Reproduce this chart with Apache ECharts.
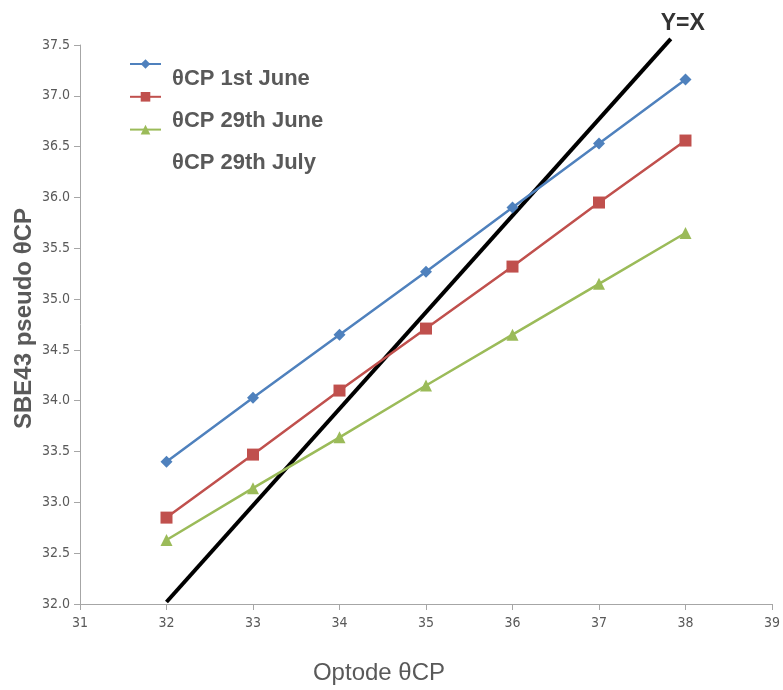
<!DOCTYPE html>
<html>
<head>
<meta charset="utf-8">
<script src="https://cdn.jsdelivr.net/npm/echarts@6/dist/echarts.min.js"></script>
<style>
  html, body { margin: 0; padding: 0; background: #fff; }
  #chart { width: 783px; height: 690px; }
</style>
</head>
<body>
<div id="chart"></div>
<script>
// Optode θCP values (x) shared by all three series
const optodeX = [32, 33, 34, 35, 36, 37, 38];

const seriesNames = ['θCP 1st June', 'θCP 29th June', 'θCP 29th July'];

// SBE43 pseudo θCP values for each date
const june1 = [33.40, 34.03, 34.65, 35.27, 35.90, 36.53, 37.16];
const june29 = [32.85, 33.47, 34.10, 34.71, 35.32, 35.95, 36.56];
const july29 = [32.63, 33.14, 33.64, 34.15, 34.65, 35.15, 35.65];

// Reference line endpoints, labelled Y=X
const refLineX = [32.0, 37.83];
const refLineY = [32.02, 37.56];

const colors = ['#4F81BD', '#C0504D', '#9BBB59'];
const symbols = ['diamond', 'rect', 'triangle'];
const symbolSizes = [12, 12, 12];

const tickFont = "'Liberation Sans Narrow', 'DejaVu Sans Condensed', sans-serif";
const textFont = "'Liberation Sans', Arial, sans-serif";

function pairs(xs, ys) {
  return xs.map((x, i) => [x, ys[i]]);
}

const dataSets = [june1, june29, july29];

const lineSeries = dataSets.map((ys, i) => ({
  name: seriesNames[i],
  type: 'line',
  data: pairs(optodeX, ys),
  symbol: symbols[i],
  symbolSize: symbolSizes[i],
  lineStyle: { color: colors[i], width: 2.5 },
  itemStyle: { color: colors[i] },
  z: 3
}));

const refData = pairs(refLineX, refLineY);
refData[1] = {
  value: refData[1],
  label: {
    show: true,
    formatter: 'Y=X',
    position: 'top',
    distance: 4,
    offset: [12, 0],
    fontSize: 23,
    fontWeight: 'bold',
    color: '#333',
    fontFamily: textFont
  }
};

const chart = echarts.init(document.getElementById('chart'), null, { renderer: 'canvas' });

chart.setOption({
  backgroundColor: '#ffffff',
  animation: false,
  grid: { left: 80, right: 7, top: 45, bottom: 82, containLabel: false },
  legend: {
    orient: 'vertical',
    left: 124,
    top: 53,
    itemWidth: 31,
    itemHeight: 12,
    itemGap: 22,
    data: seriesNames,
    formatter: () => '',
    textStyle: { fontSize: 1 }
  },
  graphic: seriesNames.map((name, i) => ({
    type: 'text',
    left: 172,
    top: [68, 110, 152][i],
    style: {
      text: name,
      fontSize: 22,
      fontFamily: textFont,
      fontWeight: 'bold',
      fill: '#595959'
    }
  })),
  xAxis: {
    type: 'value',
    min: 31,
    max: 39,
    interval: 1,
    name: 'Optode θCP',
    nameLocation: 'middle',
    nameGap: 57,
    nameMoveOverlap: false,
    nameTextStyle: {
      fontSize: 24,
      color: '#595959',
      fontFamily: textFont,
      padding: [0, 94, 0, 0]
    },
    axisLine: { show: true, lineStyle: { color: '#a6a6a6', width: 1 } },
    axisTick: { show: true, inside: false, length: 6, lineStyle: { color: '#a6a6a6' } },
    axisLabel: { fontSize: 14, color: '#595959', fontFamily: tickFont, margin: 12 },
    splitLine: { show: false }
  },
  yAxis: {
    type: 'value',
    min: 32,
    max: 37.5,
    interval: 0.5,
    name: 'SBE43 pseudo θCP',
    nameLocation: 'middle',
    nameGap: 44,
    nameMoveOverlap: false,
    nameTextStyle: {
      fontSize: 24,
      fontWeight: 'bold',
      color: '#595959',
      fontFamily: textFont,
      padding: [0, 0, 0, 12]
    },
    axisLine: { show: true, lineStyle: { color: '#a6a6a6', width: 1 } },
    axisTick: { show: true, inside: false, length: 6, lineStyle: { color: '#a6a6a6' } },
    axisLabel: {
      fontSize: 14,
      color: '#595959',
      fontFamily: tickFont,
      margin: 10,
      formatter: v => v.toFixed(1)
    },
    splitLine: { show: false }
  },
  series: [
    ...lineSeries,
    {
      name: 'Y=X',
      type: 'line',
      data: refData,
      symbol: 'circle',
      symbolSize: 0.01,
      itemStyle: { color: 'rgba(0,0,0,0)' },
      clip: false,
      lineStyle: { color: '#000000', width: 4 },
      z: 2,
      legendHoverLink: false
    }
  ]
});
</script>
</body>
</html>
